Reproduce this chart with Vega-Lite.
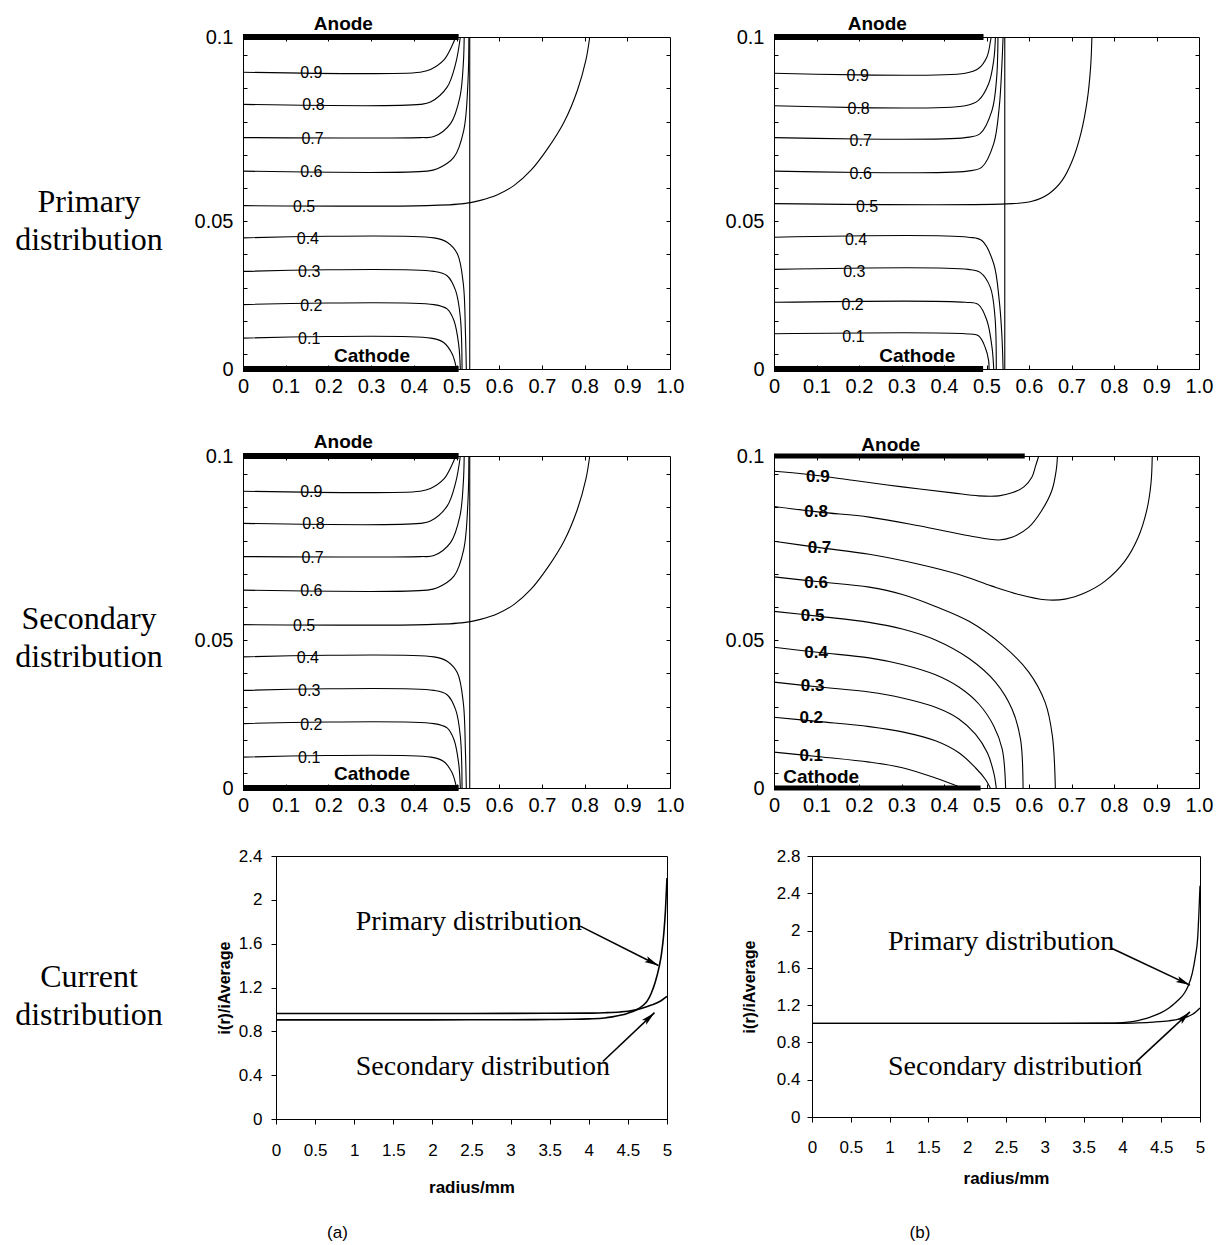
{
"$schema": "https://vega.github.io/schema/vega-lite/v6.json",
"background": "white",
"padding": {"left": 0, "top": 14, "right": 0, "bottom": 0},
"bounds": "full",
"spacing": 30,
"config": {
  "view": {"stroke": "black", "strokeWidth": 1},
  "axis": {"grid": false, "domainColor": "black", "domainWidth": 1, "tickColor": "black", "tickWidth": 1, "labelColor": "black", "titleColor": "black", "labelFont": "Liberation Sans", "titleFont": "Liberation Sans", "labelFlush": false, "labelOverlap": false},
  "text": {"font": "Liberation Sans", "color": "black"},
  "title": {"font": "Liberation Sans", "color": "black"}
},
"datasets": {
  "rl1": [{"t":"Primary","x":89,"y":0.5816},{"t":"distribution","x":89,"y":0.491}],
  "rl2": [{"t":"Secondary","x":89,"y":0.4795},{"t":"distribution","x":89,"y":0.365}],
  "rl3": [{"t":"Current","x":89,"y":0.502},{"t":"distribution","x":89,"y":0.357}],
  "sp": [{"t":""}],
  "c1a": [
    {"lev":"0.9","x":0,"y":0.0894},{"lev":"0.9","x":0.415,"y":0.0894},{"lev":"0.9","x":0.439,"y":0.0902},{"lev":"0.9","x":0.47,"y":0.093},{"lev":"0.9","x":0.49,"y":0.0975},{"lev":"0.9","x":0.498,"y":0.1},
    {"lev":"0.8","x":0,"y":0.0797},{"lev":"0.8","x":0.415,"y":0.0797},{"lev":"0.8","x":0.439,"y":0.0804},{"lev":"0.8","x":0.478,"y":0.0849},{"lev":"0.8","x":0.498,"y":0.092},{"lev":"0.8","x":0.509,"y":0.1},
    {"lev":"0.7","x":0,"y":0.0697},{"lev":"0.7","x":0.415,"y":0.0697},{"lev":"0.7","x":0.447,"y":0.07},{"lev":"0.7","x":0.486,"y":0.0739},{"lev":"0.7","x":0.508,"y":0.0819},{"lev":"0.7","x":0.516,"y":0.092},{"lev":"0.7","x":0.518,"y":0.1},
    {"lev":"0.6","x":0,"y":0.0596},{"lev":"0.6","x":0.431,"y":0.0596},{"lev":"0.6","x":0.455,"y":0.0603},{"lev":"0.6","x":0.494,"y":0.0638},{"lev":"0.6","x":0.517,"y":0.0719},{"lev":"0.6","x":0.527,"y":0.0869},{"lev":"0.6","x":0.529,"y":0.1},
    {"lev":"0.5","x":0,"y":0.0492},{"lev":"0.5","x":0.43,"y":0.0492},{"lev":"0.5","x":0.517,"y":0.0498},{"lev":"0.5","x":0.556,"y":0.0508},{"lev":"0.5","x":0.596,"y":0.0525},{"lev":"0.5","x":0.635,"y":0.0553},{"lev":"0.5","x":0.674,"y":0.0598},{"lev":"0.5","x":0.713,"y":0.0663},{"lev":"0.5","x":0.752,"y":0.0744},{"lev":"0.5","x":0.783,"y":0.0839},{"lev":"0.5","x":0.803,"y":0.093},{"lev":"0.5","x":0.812,"y":0.1},
    {"lev":"0.4","x":0,"y":0.0395},{"lev":"0.4","x":0.447,"y":0.0395},{"lev":"0.4","x":0.478,"y":0.0382},{"lev":"0.4","x":0.502,"y":0.0347},{"lev":"0.4","x":0.516,"y":0.0256},{"lev":"0.4","x":0.521,"y":0.0106},{"lev":"0.4","x":0.523,"y":0},
    {"lev":"0.3","x":0,"y":0.0294},{"lev":"0.3","x":0.447,"y":0.0294},{"lev":"0.3","x":0.478,"y":0.0281},{"lev":"0.3","x":0.498,"y":0.0236},{"lev":"0.3","x":0.509,"y":0.0156},{"lev":"0.3","x":0.513,"y":0},
    {"lev":"0.2","x":0,"y":0.0194},{"lev":"0.2","x":0.447,"y":0.0194},{"lev":"0.2","x":0.478,"y":0.0181},{"lev":"0.2","x":0.494,"y":0.0146},{"lev":"0.2","x":0.505,"y":0.0075},{"lev":"0.2","x":0.509,"y":0},
    {"lev":"0.1","x":0,"y":0.0093},{"lev":"0.1","x":0.44,"y":0.0093},{"lev":"0.1","x":0.47,"y":0.008},{"lev":"0.1","x":0.49,"y":0.0045},{"lev":"0.1","x":0.5,"y":0},
    {"lev":"v","x":0.531,"y":0},{"lev":"v","x":0.531,"y":0.1}
  ],
  "l1a": [{"lev":"0.9","x":0.16,"y":0.0894},{"lev":"0.8","x":0.165,"y":0.0797},{"lev":"0.7","x":0.163,"y":0.0697},{"lev":"0.6","x":0.16,"y":0.0596},{"lev":"0.5","x":0.143,"y":0.0492},{"lev":"0.4","x":0.152,"y":0.0395},{"lev":"0.3","x":0.155,"y":0.0294},{"lev":"0.2","x":0.16,"y":0.0194},{"lev":"0.1","x":0.155,"y":0.0093}],
  "e1a": [{"name":"Anode","x0":0,"x1":0.505,"y":0.1,"lx":0.235},{"name":"Cathode","x0":0,"x1":0.505,"y":0,"lx":0.302}],
  "c1b": [
    {"lev":"0.9","x":0,"y":0.0891},{"lev":"0.9","x":0.45,"y":0.0891},{"lev":"0.9","x":0.481,"y":0.0905},{"lev":"0.9","x":0.501,"y":0.094},{"lev":"0.9","x":0.509,"y":0.0985},{"lev":"0.9","x":0.511,"y":0.1},
    {"lev":"0.8","x":0,"y":0.0793},{"lev":"0.8","x":0.45,"y":0.0793},{"lev":"0.8","x":0.481,"y":0.0809},{"lev":"0.8","x":0.505,"y":0.0859},{"lev":"0.8","x":0.517,"y":0.093},{"lev":"0.8","x":0.521,"y":0.1},
    {"lev":"0.7","x":0,"y":0.0697},{"lev":"0.7","x":0.45,"y":0.0697},{"lev":"0.7","x":0.485,"y":0.0709},{"lev":"0.7","x":0.513,"y":0.0779},{"lev":"0.7","x":0.524,"y":0.0879},{"lev":"0.7","x":0.527,"y":0.1},
    {"lev":"0.6","x":0,"y":0.0596},{"lev":"0.6","x":0.455,"y":0.0596},{"lev":"0.6","x":0.489,"y":0.0608},{"lev":"0.6","x":0.517,"y":0.0679},{"lev":"0.6","x":0.53,"y":0.0789},{"lev":"0.6","x":0.536,"y":0.091},{"lev":"0.6","x":0.539,"y":0.1},
    {"lev":"0.5","x":0,"y":0.0498},{"lev":"0.5","x":0.56,"y":0.0498},{"lev":"0.5","x":0.607,"y":0.0505},{"lev":"0.5","x":0.647,"y":0.0528},{"lev":"0.5","x":0.678,"y":0.0568},{"lev":"0.5","x":0.702,"y":0.0628},{"lev":"0.5","x":0.722,"y":0.0709},{"lev":"0.5","x":0.737,"y":0.0809},{"lev":"0.5","x":0.745,"y":0.091},{"lev":"0.5","x":0.748,"y":0.1},
    {"lev":"0.4","x":0,"y":0.0397},{"lev":"0.4","x":0.457,"y":0.0397},{"lev":"0.4","x":0.489,"y":0.0387},{"lev":"0.4","x":0.517,"y":0.0317},{"lev":"0.4","x":0.53,"y":0.0206},{"lev":"0.4","x":0.536,"y":0.0106},{"lev":"0.4","x":0.539,"y":0},
    {"lev":"0.3","x":0,"y":0.03},{"lev":"0.3","x":0.457,"y":0.03},{"lev":"0.3","x":0.485,"y":0.0291},{"lev":"0.3","x":0.509,"y":0.0246},{"lev":"0.3","x":0.52,"y":0.0156},{"lev":"0.3","x":0.523,"y":0},
    {"lev":"0.2","x":0,"y":0.0201},{"lev":"0.2","x":0.45,"y":0.0201},{"lev":"0.2","x":0.481,"y":0.0194},{"lev":"0.2","x":0.501,"y":0.0146},{"lev":"0.2","x":0.513,"y":0.0065},{"lev":"0.2","x":0.517,"y":0},
    {"lev":"0.1","x":0,"y":0.0106},{"lev":"0.1","x":0.45,"y":0.0106},{"lev":"0.1","x":0.481,"y":0.01},{"lev":"0.1","x":0.497,"y":0.0065},{"lev":"0.1","x":0.505,"y":0.0025},{"lev":"0.1","x":0.506,"y":0},
    {"lev":"v","x":0.543,"y":0},{"lev":"v","x":0.543,"y":0.1}
  ],
  "l1b": [{"lev":"0.9","x":0.197,"y":0.0891},{"lev":"0.8","x":0.199,"y":0.0793},{"lev":"0.7","x":0.204,"y":0.0697},{"lev":"0.6","x":0.204,"y":0.0596},{"lev":"0.5","x":0.219,"y":0.0498},{"lev":"0.4","x":0.193,"y":0.0397},{"lev":"0.3","x":0.189,"y":0.03},{"lev":"0.2","x":0.185,"y":0.0201},{"lev":"0.1","x":0.187,"y":0.0106}],
  "e1b": [{"name":"Anode","x0":0,"x1":0.493,"y":0.1,"lx":0.243},{"name":"Cathode","x0":0,"x1":0.492,"y":0,"lx":0.337}],
  "c2b": [
    {"lev":"0.9","x":0,"y":0.0954},{"lev":"0.9","x":0.076,"y":0.0945},{"lev":"0.9","x":0.185,"y":0.0927},{"lev":"0.9","x":0.302,"y":0.0907},{"lev":"0.9","x":0.42,"y":0.0889},{"lev":"0.9","x":0.482,"y":0.088},{"lev":"0.9","x":0.529,"y":0.088},{"lev":"0.9","x":0.56,"y":0.0889},{"lev":"0.9","x":0.588,"y":0.0907},{"lev":"0.9","x":0.607,"y":0.0937},{"lev":"0.9","x":0.615,"y":0.0968},{"lev":"0.9","x":0.623,"y":0.1},
    {"lev":"0.8","x":0,"y":0.0848},{"lev":"0.8","x":0.107,"y":0.0831},{"lev":"0.8","x":0.224,"y":0.0816},{"lev":"0.8","x":0.341,"y":0.079},{"lev":"0.8","x":0.459,"y":0.076},{"lev":"0.8","x":0.529,"y":0.0747},{"lev":"0.8","x":0.56,"y":0.0755},{"lev":"0.8","x":0.599,"y":0.0785},{"lev":"0.8","x":0.63,"y":0.0836},{"lev":"0.8","x":0.654,"y":0.0897},{"lev":"0.8","x":0.664,"y":0.0957},{"lev":"0.8","x":0.667,"y":0.1},
    {"lev":"0.7","x":0,"y":0.0743},{"lev":"0.7","x":0.107,"y":0.0724},{"lev":"0.7","x":0.224,"y":0.0704},{"lev":"0.7","x":0.341,"y":0.0674},{"lev":"0.7","x":0.435,"y":0.0643},{"lev":"0.7","x":0.513,"y":0.0608},{"lev":"0.7","x":0.576,"y":0.0583},{"lev":"0.7","x":0.638,"y":0.0567},{"lev":"0.7","x":0.685,"y":0.0569},{"lev":"0.7","x":0.732,"y":0.0588},{"lev":"0.7","x":0.779,"y":0.0623},{"lev":"0.7","x":0.826,"y":0.0684},{"lev":"0.7","x":0.857,"y":0.0755},{"lev":"0.7","x":0.877,"y":0.0836},{"lev":"0.7","x":0.887,"y":0.0917},{"lev":"0.7","x":0.89,"y":0.1},
    {"lev":"0.6","x":0,"y":0.0636},{"lev":"0.6","x":0.107,"y":0.0621},{"lev":"0.6","x":0.224,"y":0.0605},{"lev":"0.6","x":0.302,"y":0.0583},{"lev":"0.6","x":0.38,"y":0.0547},{"lev":"0.6","x":0.459,"y":0.0502},{"lev":"0.6","x":0.537,"y":0.0431},{"lev":"0.6","x":0.599,"y":0.035},{"lev":"0.6","x":0.638,"y":0.0258},{"lev":"0.6","x":0.655,"y":0.0157},{"lev":"0.6","x":0.662,"y":0},
    {"lev":"0.5","x":0,"y":0.0532},{"lev":"0.5","x":0.107,"y":0.0517},{"lev":"0.5","x":0.224,"y":0.0499},{"lev":"0.5","x":0.302,"y":0.0479},{"lev":"0.5","x":0.38,"y":0.0446},{"lev":"0.5","x":0.459,"y":0.039},{"lev":"0.5","x":0.521,"y":0.0319},{"lev":"0.5","x":0.56,"y":0.0238},{"lev":"0.5","x":0.58,"y":0.0147},{"lev":"0.5","x":0.586,"y":0},
    {"lev":"0.4","x":0,"y":0.0424},{"lev":"0.4","x":0.107,"y":0.0408},{"lev":"0.4","x":0.224,"y":0.0392},{"lev":"0.4","x":0.302,"y":0.0372},{"lev":"0.4","x":0.38,"y":0.0341},{"lev":"0.4","x":0.435,"y":0.0304},{"lev":"0.4","x":0.482,"y":0.0253},{"lev":"0.4","x":0.517,"y":0.0187},{"lev":"0.4","x":0.537,"y":0.0117},{"lev":"0.4","x":0.545,"y":0},
    {"lev":"0.3","x":0,"y":0.0319},{"lev":"0.3","x":0.107,"y":0.0304},{"lev":"0.3","x":0.224,"y":0.0289},{"lev":"0.3","x":0.302,"y":0.0271},{"lev":"0.3","x":0.38,"y":0.0243},{"lev":"0.3","x":0.435,"y":0.0208},{"lev":"0.3","x":0.474,"y":0.0162},{"lev":"0.3","x":0.502,"y":0.0106},{"lev":"0.3","x":0.517,"y":0.0046},{"lev":"0.3","x":0.523,"y":0},
    {"lev":"0.2","x":0,"y":0.0213},{"lev":"0.2","x":0.107,"y":0.02},{"lev":"0.2","x":0.224,"y":0.0185},{"lev":"0.2","x":0.302,"y":0.0169},{"lev":"0.2","x":0.38,"y":0.0142},{"lev":"0.2","x":0.435,"y":0.0106},{"lev":"0.2","x":0.474,"y":0.0061},{"lev":"0.2","x":0.498,"y":0.0025},{"lev":"0.2","x":0.509,"y":0},
    {"lev":"0.1","x":0,"y":0.0108},{"lev":"0.1","x":0.107,"y":0.0094},{"lev":"0.1","x":0.224,"y":0.0078},{"lev":"0.1","x":0.302,"y":0.0061},{"lev":"0.1","x":0.38,"y":0.003},{"lev":"0.1","x":0.443,"y":0}
  ],
  "l2b": [{"lev":"0.9","x":0.103,"y":0.0939},{"lev":"0.8","x":0.099,"y":0.0834},{"lev":"0.7","x":0.107,"y":0.0726},{"lev":"0.6","x":0.099,"y":0.0621},{"lev":"0.5","x":0.091,"y":0.052},{"lev":"0.4","x":0.099,"y":0.041},{"lev":"0.3","x":0.091,"y":0.0309},{"lev":"0.2","x":0.0875,"y":0.0213},{"lev":"0.1","x":0.0875,"y":0.0098}],
  "e2b": [{"name":"Anode","x0":0,"x1":0.59,"y":0.1,"lx":0.275},{"name":"Cathode","x0":0,"x1":0.486,"y":0,"lx":0.111}],
  "cura": [
    {"d":"Primary","r":0,"v":0.905},{"d":"Primary","r":1,"v":0.905},{"d":"Primary","r":2,"v":0.905},{"d":"Primary","r":3,"v":0.906},{"d":"Primary","r":3.5,"v":0.908},{"d":"Primary","r":3.8,"v":0.91},{"d":"Primary","r":4,"v":0.914},{"d":"Primary","r":4.2,"v":0.922},{"d":"Primary","r":4.3,"v":0.932},{"d":"Primary","r":4.4,"v":0.946},{"d":"Primary","r":4.5,"v":0.966},{"d":"Primary","r":4.6,"v":0.993},{"d":"Primary","r":4.7,"v":1.04},{"d":"Primary","r":4.75,"v":1.08},{"d":"Primary","r":4.8,"v":1.15},{"d":"Primary","r":4.85,"v":1.25},{"d":"Primary","r":4.9,"v":1.39},{"d":"Primary","r":4.93,"v":1.51},{"d":"Primary","r":4.96,"v":1.7},{"d":"Primary","r":4.98,"v":1.9},{"d":"Primary","r":5,"v":2.2},
    {"d":"Secondary","r":0,"v":0.963},{"d":"Secondary","r":1,"v":0.963},{"d":"Secondary","r":2,"v":0.963},{"d":"Secondary","r":3,"v":0.964},{"d":"Secondary","r":4,"v":0.966},{"d":"Secondary","r":4.2,"v":0.97},{"d":"Secondary","r":4.4,"v":0.977},{"d":"Secondary","r":4.5,"v":0.984},{"d":"Secondary","r":4.6,"v":0.996},{"d":"Secondary","r":4.7,"v":1.015},{"d":"Secondary","r":4.8,"v":1.04},{"d":"Secondary","r":4.9,"v":1.07},{"d":"Secondary","r":5,"v":1.12}
  ],
  "arra": [{"d":"Primary","r":3.89,"v":1.76,"r2":4.89,"v2":1.40},{"d":"Secondary","r":4.18,"v":0.525,"r2":4.84,"v2":0.97}],
  "anna": [{"t":"Primary distribution","r":1.02,"v":1.80},{"t":"Secondary distribution","r":1.02,"v":0.47}],
  "curb": [
    {"d":"Primary","r":0,"v":1.005},{"d":"Primary","r":1,"v":1.005},{"d":"Primary","r":2,"v":1.005},{"d":"Primary","r":3,"v":1.005},{"d":"Primary","r":3.6,"v":1.006},{"d":"Primary","r":3.9,"v":1.008},{"d":"Primary","r":4.1,"v":1.02},{"d":"Primary","r":4.2,"v":1.035},{"d":"Primary","r":4.3,"v":1.055},{"d":"Primary","r":4.4,"v":1.085},{"d":"Primary","r":4.5,"v":1.12},{"d":"Primary","r":4.6,"v":1.17},{"d":"Primary","r":4.7,"v":1.24},{"d":"Primary","r":4.8,"v":1.33},{"d":"Primary","r":4.85,"v":1.41},{"d":"Primary","r":4.9,"v":1.54},{"d":"Primary","r":4.94,"v":1.72},{"d":"Primary","r":4.97,"v":1.92},{"d":"Primary","r":5,"v":2.48},
    {"d":"Secondary","r":0,"v":1.005},{"d":"Secondary","r":3,"v":1.005},{"d":"Secondary","r":4,"v":1.006},{"d":"Secondary","r":4.2,"v":1.01},{"d":"Secondary","r":4.4,"v":1.018},{"d":"Secondary","r":4.6,"v":1.032},{"d":"Secondary","r":4.74,"v":1.052},{"d":"Secondary","r":4.85,"v":1.08},{"d":"Secondary","r":4.91,"v":1.105},{"d":"Secondary","r":5,"v":1.17}
  ],
  "arrb": [{"d":"Primary","r":3.86,"v":1.81,"r2":4.87,"v2":1.415},{"d":"Secondary","r":4.18,"v":0.594,"r2":4.87,"v2":1.127}],
  "annb": [{"t":"Primary distribution","r":0.98,"v":1.878},{"t":"Secondary distribution","r":0.98,"v":0.539}]
},
"vconcat": [
 {"bounds": "flush", "columns": 4, "align": "each", "spacing": {"row": 0, "column": 0},
  "concat": [
  {"width": 243, "height": 419, "view": {"stroke": null}, "data": {"name": "rl1"},
   "mark": {"type": "text", "font": "Liberation Serif", "fontSize": 32, "baseline": "alphabetic", "align": "center"},
   "encoding": {"x": {"field": "x", "type": "quantitative", "scale": {"domain": [0, 243]}, "axis": null}, "y": {"field": "y", "type": "quantitative", "scale": {"domain": [0, 1]}, "axis": null}, "text": {"field": "t"}}},
  {"width": 427, "height": 332,
   "layer": [
    {"data": {"name": "c1a"}, "mark": {"type": "line", "interpolate": "catmull-rom", "color": "black", "strokeWidth": 1.1},
     "encoding": {
      "x": {"field": "x", "type": "quantitative", "scale": {"domain": [0, 1], "nice": false, "zero": false}, "axis": {"orient": "bottom", "title": null, "values": [0,0.1,0.2,0.3,0.4,0.5,0.6,0.7,0.8,0.9,1], "tickSize": -4, "labelPadding": 11, "labelFontSize": 20, "labelExpr": "datum.value == 0 ? '0' : format(datum.value, '.1f')"}},
      "y": {"field": "y", "type": "quantitative", "scale": {"domain": [0, 0.1], "nice": false, "zero": false}, "axis": {"orient": "left", "title": null, "values": [0,0.0045,0.0145,0.0245,0.0345,0.0445,0.0545,0.0645,0.0745,0.0845,0.0945,0.1], "tickSize": -4, "labelPadding": 14, "labelFontSize": 20, "labelExpr": "datum.value == 0 ? '0' : (datum.value == 0.1 ? '0.1' : (datum.value == 0.0445 ? '0.05' : ''))"}},
      "detail": {"field": "lev"}}},
    {"data": {"name": "e1a"}, "mark": {"type": "rule", "strokeWidth": 6, "color": "black"},
     "encoding": {
      "x": {"field": "x0", "type": "quantitative", "scale": {"domain": [0, 1], "nice": false, "zero": false}, "axis": {"orient": "top", "title": null, "labels": false, "domain": false, "values": [0.1,0.2,0.3,0.4,0.5,0.6,0.7,0.8,0.9], "tickSize": -4}},
      "x2": {"field": "x1"},
      "y": {"field": "y", "type": "quantitative", "scale": {"domain": [0, 0.1], "nice": false, "zero": false}, "axis": {"orient": "right", "title": null, "labels": false, "domain": false, "values": [0.0045,0.0145,0.0245,0.0345,0.0445,0.0545,0.0645,0.0745,0.0845,0.0945], "tickSize": -4}}}},
    {"data": {"name": "e1a"}, "mark": {"type": "text", "fontWeight": "bold", "fontSize": 19, "baseline": "alphabetic", "dy": -7},
     "encoding": {"x": {"field": "lx", "type": "quantitative", "scale": {"domain": [0, 1], "nice": false, "zero": false}, "axis": null}, "y": {"field": "y", "type": "quantitative", "scale": {"domain": [0, 0.1], "nice": false, "zero": false}, "axis": null}, "text": {"field": "name"}}},
    {"data": {"name": "l1a"}, "mark": {"type": "text", "fontSize": 16, "baseline": "middle", "dy": 1},
     "encoding": {"x": {"field": "x", "type": "quantitative", "scale": {"domain": [0, 1], "nice": false, "zero": false}, "axis": null}, "y": {"field": "y", "type": "quantitative", "scale": {"domain": [0, 0.1], "nice": false, "zero": false}, "axis": null}, "text": {"field": "lev"}}}
   ],
   "resolve": {"axis": {"x": "independent", "y": "independent"}}},
  {"width": 104, "height": 1, "view": {"stroke": null}, "data": {"name": "sp"}, "mark": {"type": "text", "opacity": 0}, "encoding": {"text": {"field": "t"}}},
  {"width": 425, "height": 332,
   "layer": [
    {"data": {"name": "c1b"}, "mark": {"type": "line", "interpolate": "catmull-rom", "color": "black", "strokeWidth": 1.1},
     "encoding": {
      "x": {"field": "x", "type": "quantitative", "scale": {"domain": [0, 1], "nice": false, "zero": false}, "axis": {"orient": "bottom", "title": null, "values": [0,0.1,0.2,0.3,0.4,0.5,0.6,0.7,0.8,0.9,1], "tickSize": -4, "labelPadding": 11, "labelFontSize": 20, "labelExpr": "datum.value == 0 ? '0' : format(datum.value, '.1f')"}},
      "y": {"field": "y", "type": "quantitative", "scale": {"domain": [0, 0.1], "nice": false, "zero": false}, "axis": {"orient": "left", "title": null, "values": [0,0.0045,0.0145,0.0245,0.0345,0.0445,0.0545,0.0645,0.0745,0.0845,0.0945,0.1], "tickSize": -4, "labelPadding": 14, "labelFontSize": 20, "labelExpr": "datum.value == 0 ? '0' : (datum.value == 0.1 ? '0.1' : (datum.value == 0.0445 ? '0.05' : ''))"}},
      "detail": {"field": "lev"}}},
    {"data": {"name": "e1b"}, "mark": {"type": "rule", "strokeWidth": 6, "color": "black"},
     "encoding": {
      "x": {"field": "x0", "type": "quantitative", "scale": {"domain": [0, 1], "nice": false, "zero": false}, "axis": {"orient": "top", "title": null, "labels": false, "domain": false, "values": [0.1,0.2,0.3,0.4,0.5,0.6,0.7,0.8,0.9], "tickSize": -4}},
      "x2": {"field": "x1"},
      "y": {"field": "y", "type": "quantitative", "scale": {"domain": [0, 0.1], "nice": false, "zero": false}, "axis": {"orient": "right", "title": null, "labels": false, "domain": false, "values": [0.0045,0.0145,0.0245,0.0345,0.0445,0.0545,0.0645,0.0745,0.0845,0.0945], "tickSize": -4}}}},
    {"data": {"name": "e1b"}, "mark": {"type": "text", "fontWeight": "bold", "fontSize": 19, "baseline": "alphabetic", "dy": -7},
     "encoding": {"x": {"field": "lx", "type": "quantitative", "scale": {"domain": [0, 1], "nice": false, "zero": false}, "axis": null}, "y": {"field": "y", "type": "quantitative", "scale": {"domain": [0, 0.1], "nice": false, "zero": false}, "axis": null}, "text": {"field": "name"}}},
    {"data": {"name": "l1b"}, "mark": {"type": "text", "fontSize": 16, "baseline": "middle", "dy": 3},
     "encoding": {"x": {"field": "x", "type": "quantitative", "scale": {"domain": [0, 1], "nice": false, "zero": false}, "axis": null}, "y": {"field": "y", "type": "quantitative", "scale": {"domain": [0, 0.1], "nice": false, "zero": false}, "axis": null}, "text": {"field": "lev"}}}
   ],
   "resolve": {"axis": {"x": "independent", "y": "independent"}}},
  {"width": 243, "height": 332, "view": {"stroke": null}, "data": {"name": "rl2"},
   "mark": {"type": "text", "font": "Liberation Serif", "fontSize": 32, "baseline": "alphabetic", "align": "center"},
   "encoding": {"x": {"field": "x", "type": "quantitative", "scale": {"domain": [0, 243]}, "axis": null}, "y": {"field": "y", "type": "quantitative", "scale": {"domain": [0, 1]}, "axis": null}, "text": {"field": "t"}}},
  {"width": 427, "height": 332,
   "layer": [
    {"data": {"name": "c1a"}, "mark": {"type": "line", "interpolate": "catmull-rom", "color": "black", "strokeWidth": 1.1},
     "encoding": {
      "x": {"field": "x", "type": "quantitative", "scale": {"domain": [0, 1], "nice": false, "zero": false}, "axis": {"orient": "bottom", "title": null, "values": [0,0.1,0.2,0.3,0.4,0.5,0.6,0.7,0.8,0.9,1], "tickSize": -4, "labelPadding": 11, "labelFontSize": 20, "labelExpr": "datum.value == 0 ? '0' : format(datum.value, '.1f')"}},
      "y": {"field": "y", "type": "quantitative", "scale": {"domain": [0, 0.1], "nice": false, "zero": false}, "axis": {"orient": "left", "title": null, "values": [0,0.0045,0.0145,0.0245,0.0345,0.0445,0.0545,0.0645,0.0745,0.0845,0.0945,0.1], "tickSize": -4, "labelPadding": 14, "labelFontSize": 20, "labelExpr": "datum.value == 0 ? '0' : (datum.value == 0.1 ? '0.1' : (datum.value == 0.0445 ? '0.05' : ''))"}},
      "detail": {"field": "lev"}}},
    {"data": {"name": "e1a"}, "mark": {"type": "rule", "strokeWidth": 6, "color": "black"},
     "encoding": {
      "x": {"field": "x0", "type": "quantitative", "scale": {"domain": [0, 1], "nice": false, "zero": false}, "axis": {"orient": "top", "title": null, "labels": false, "domain": false, "values": [0.1,0.2,0.3,0.4,0.5,0.6,0.7,0.8,0.9], "tickSize": -4}},
      "x2": {"field": "x1"},
      "y": {"field": "y", "type": "quantitative", "scale": {"domain": [0, 0.1], "nice": false, "zero": false}, "axis": {"orient": "right", "title": null, "labels": false, "domain": false, "values": [0.0045,0.0145,0.0245,0.0345,0.0445,0.0545,0.0645,0.0745,0.0845,0.0945], "tickSize": -4}}}},
    {"data": {"name": "e1a"}, "mark": {"type": "text", "fontWeight": "bold", "fontSize": 19, "baseline": "alphabetic", "dy": -8},
     "encoding": {"x": {"field": "lx", "type": "quantitative", "scale": {"domain": [0, 1], "nice": false, "zero": false}, "axis": null}, "y": {"field": "y", "type": "quantitative", "scale": {"domain": [0, 0.1], "nice": false, "zero": false}, "axis": null}, "text": {"field": "name"}}},
    {"data": {"name": "l1a"}, "mark": {"type": "text", "fontSize": 16, "baseline": "middle", "dy": 1},
     "encoding": {"x": {"field": "x", "type": "quantitative", "scale": {"domain": [0, 1], "nice": false, "zero": false}, "axis": null}, "y": {"field": "y", "type": "quantitative", "scale": {"domain": [0, 0.1], "nice": false, "zero": false}, "axis": null}, "text": {"field": "lev"}}}
   ],
   "resolve": {"axis": {"x": "independent", "y": "independent"}}},
  {"width": 104, "height": 1, "view": {"stroke": null}, "data": {"name": "sp"}, "mark": {"type": "text", "opacity": 0}, "encoding": {"text": {"field": "t"}}},
  {"width": 425, "height": 332,
   "layer": [
    {"data": {"name": "c2b"}, "mark": {"type": "line", "interpolate": "catmull-rom", "color": "black", "strokeWidth": 1.1},
     "encoding": {
      "x": {"field": "x", "type": "quantitative", "scale": {"domain": [0, 1], "nice": false, "zero": false}, "axis": {"orient": "bottom", "title": null, "values": [0,0.1,0.2,0.3,0.4,0.5,0.6,0.7,0.8,0.9,1], "tickSize": -4, "labelPadding": 11, "labelFontSize": 20, "labelExpr": "datum.value == 0 ? '0' : format(datum.value, '.1f')"}},
      "y": {"field": "y", "type": "quantitative", "scale": {"domain": [0, 0.1], "nice": false, "zero": false}, "axis": {"orient": "left", "title": null, "values": [0,0.0045,0.0145,0.0245,0.0345,0.0445,0.0545,0.0645,0.0745,0.0845,0.0945,0.1], "tickSize": -4, "labelPadding": 14, "labelFontSize": 20, "labelExpr": "datum.value == 0 ? '0' : (datum.value == 0.1 ? '0.1' : (datum.value == 0.0445 ? '0.05' : ''))"}},
      "detail": {"field": "lev"}}},
    {"data": {"name": "e2b"}, "mark": {"type": "rule", "strokeWidth": 5, "color": "black"},
     "encoding": {
      "x": {"field": "x0", "type": "quantitative", "scale": {"domain": [0, 1], "nice": false, "zero": false}, "axis": {"orient": "top", "title": null, "labels": false, "domain": false, "values": [0.1,0.2,0.3,0.4,0.5,0.6,0.7,0.8,0.9], "tickSize": -4}},
      "x2": {"field": "x1"},
      "y": {"field": "y", "type": "quantitative", "scale": {"domain": [0, 0.1], "nice": false, "zero": false}, "axis": {"orient": "right", "title": null, "labels": false, "domain": false, "values": [0.0045,0.0145,0.0245,0.0345,0.0445,0.0545,0.0645,0.0745,0.0845,0.0945], "tickSize": -4}}}},
    {"data": {"name": "e2b"}, "mark": {"type": "text", "fontWeight": "bold", "fontSize": 19, "baseline": "alphabetic", "dy": -5},
     "encoding": {"x": {"field": "lx", "type": "quantitative", "scale": {"domain": [0, 1], "nice": false, "zero": false}, "axis": null}, "y": {"field": "y", "type": "quantitative", "scale": {"domain": [0, 0.1], "nice": false, "zero": false}, "axis": null}, "text": {"field": "name"}}},
    {"data": {"name": "l2b"}, "mark": {"type": "text", "fontSize": 17, "fontWeight": "bold", "baseline": "middle", "dy": 1},
     "encoding": {"x": {"field": "x", "type": "quantitative", "scale": {"domain": [0, 1], "nice": false, "zero": false}, "axis": null}, "y": {"field": "y", "type": "quantitative", "scale": {"domain": [0, 0.1], "nice": false, "zero": false}, "axis": null}, "text": {"field": "lev"}}}
   ],
   "resolve": {"axis": {"x": "independent", "y": "independent"}}}
  ]},
 {"bounds": "flush", "columns": 4, "align": "each", "spacing": {"row": 0, "column": 0},
  "concat": [
  {"width": 276, "height": 263, "view": {"stroke": null}, "data": {"name": "rl3"},
   "mark": {"type": "text", "font": "Liberation Serif", "fontSize": 32, "baseline": "alphabetic", "align": "center"},
   "encoding": {"x": {"field": "x", "type": "quantitative", "scale": {"domain": [0, 276]}, "axis": null}, "y": {"field": "y", "type": "quantitative", "scale": {"domain": [0, 1]}, "axis": null}, "text": {"field": "t"}}},
  {"width": 391, "height": 263,
   "title": {"text": "(a)", "orient": "bottom", "anchor": "middle", "dx": -134, "offset": 30, "fontSize": 17, "fontWeight": "normal", "font": "Liberation Sans", "color": "black"},
   "layer": [
    {"data": {"name": "cura"}, "mark": {"type": "line", "interpolate": "monotone", "color": "black", "strokeWidth": 1.6},
     "encoding": {
      "x": {"field": "r", "type": "quantitative", "scale": {"domain": [0, 5], "nice": false, "zero": false}, "axis": {"title": "radius/mm", "values": [0,0.5,1,1.5,2,2.5,3,3.5,4,4.5,5], "format": "~g", "tickSize": 5, "labelPadding": 18, "labelFontSize": 17, "titleFontSize": 17, "titleFontWeight": "bold", "titlePadding": 21}},
      "y": {"field": "v", "type": "quantitative", "scale": {"domain": [0, 2.4], "nice": false, "zero": false}, "axis": {"title": "i(r)/iAverage", "values": [0,0.4,0.8,1.2,1.6,2,2.4], "format": "~g", "tickSize": 5, "labelPadding": 9, "labelFontSize": 17, "titleFontSize": 16, "titleFontWeight": "bold", "titlePadding": 6}},
      "detail": {"field": "d"}}},
    {"data": {"name": "arra"}, "mark": {"type": "rule", "strokeWidth": 1.6, "color": "black"},
     "encoding": {"x": {"field": "r", "type": "quantitative", "scale": {"domain": [0, 5], "nice": false, "zero": false}, "axis": null}, "y": {"field": "v", "type": "quantitative", "scale": {"domain": [0, 2.4], "nice": false, "zero": false}, "axis": null}, "x2": {"field": "r2"}, "y2": {"field": "v2"}}},
    {"data": {"name": "arra"}, "transform": [{"filter": "datum.d == 'Primary'"}],
     "mark": {"type": "point", "shape": "M0,0L0.45,2L0,1.6L-0.45,2Z", "filled": true, "color": "black", "opacity": 1, "size": 200, "angle": 117},
     "encoding": {"x": {"field": "r2", "type": "quantitative", "scale": {"domain": [0, 5], "nice": false, "zero": false}, "axis": null}, "y": {"field": "v2", "type": "quantitative", "scale": {"domain": [0, 2.4], "nice": false, "zero": false}, "axis": null}}},
    {"data": {"name": "arra"}, "transform": [{"filter": "datum.d == 'Secondary'"}],
     "mark": {"type": "point", "shape": "M0,0L0.45,2L0,1.6L-0.45,2Z", "filled": true, "color": "black", "opacity": 1, "size": 200, "angle": 47},
     "encoding": {"x": {"field": "r2", "type": "quantitative", "scale": {"domain": [0, 5], "nice": false, "zero": false}, "axis": null}, "y": {"field": "v2", "type": "quantitative", "scale": {"domain": [0, 2.4], "nice": false, "zero": false}, "axis": null}}},
    {"data": {"name": "anna"}, "mark": {"type": "text", "font": "Liberation Serif", "fontSize": 28, "align": "left", "baseline": "middle"},
     "encoding": {"x": {"field": "r", "type": "quantitative", "scale": {"domain": [0, 5], "nice": false, "zero": false}, "axis": null}, "y": {"field": "v", "type": "quantitative", "scale": {"domain": [0, 2.4], "nice": false, "zero": false}, "axis": null}, "text": {"field": "t"}}}
   ],
   "resolve": {"axis": {"x": "independent", "y": "independent"}}},
  {"width": 145, "height": 1, "view": {"stroke": null}, "data": {"name": "sp"}, "mark": {"type": "text", "opacity": 0}, "encoding": {"text": {"field": "t"}}},
  {"width": 388, "height": 261,
   "title": {"text": "(b)", "orient": "bottom", "anchor": "middle", "dx": -86, "offset": 39, "fontSize": 17, "fontWeight": "normal", "font": "Liberation Sans", "color": "black"},
   "layer": [
    {"data": {"name": "curb"}, "mark": {"type": "line", "interpolate": "monotone", "color": "black", "strokeWidth": 1.3},
     "encoding": {
      "x": {"field": "r", "type": "quantitative", "scale": {"domain": [0, 5], "nice": false, "zero": false}, "axis": {"title": "radius/mm", "values": [0,0.5,1,1.5,2,2.5,3,3.5,4,4.5,5], "format": "~g", "tickSize": 5, "labelPadding": 17, "labelFontSize": 17, "titleFontSize": 17, "titleFontWeight": "bold", "titlePadding": 15}},
      "y": {"field": "v", "type": "quantitative", "scale": {"domain": [0, 2.8], "nice": false, "zero": false}, "axis": {"title": "i(r)/iAverage", "values": [0,0.4,0.8,1.2,1.6,2,2.4,2.8], "format": "~g", "tickSize": 5, "labelPadding": 7, "labelFontSize": 17, "titleFontSize": 16, "titleFontWeight": "bold", "titlePadding": 19}},
      "detail": {"field": "d"}}},
    {"data": {"name": "arrb"}, "mark": {"type": "rule", "strokeWidth": 1.6, "color": "black"},
     "encoding": {"x": {"field": "r", "type": "quantitative", "scale": {"domain": [0, 5], "nice": false, "zero": false}, "axis": null}, "y": {"field": "v", "type": "quantitative", "scale": {"domain": [0, 2.8], "nice": false, "zero": false}, "axis": null}, "x2": {"field": "r2"}, "y2": {"field": "v2"}}},
    {"data": {"name": "arrb"}, "transform": [{"filter": "datum.d == 'Primary'"}],
     "mark": {"type": "point", "shape": "M0,0L0.45,2L0,1.6L-0.45,2Z", "filled": true, "color": "black", "opacity": 1, "size": 200, "angle": 115},
     "encoding": {"x": {"field": "r2", "type": "quantitative", "scale": {"domain": [0, 5], "nice": false, "zero": false}, "axis": null}, "y": {"field": "v2", "type": "quantitative", "scale": {"domain": [0, 2.8], "nice": false, "zero": false}, "axis": null}}},
    {"data": {"name": "arrb"}, "transform": [{"filter": "datum.d == 'Secondary'"}],
     "mark": {"type": "point", "shape": "M0,0L0.45,2L0,1.6L-0.45,2Z", "filled": true, "color": "black", "opacity": 1, "size": 200, "angle": 47},
     "encoding": {"x": {"field": "r2", "type": "quantitative", "scale": {"domain": [0, 5], "nice": false, "zero": false}, "axis": null}, "y": {"field": "v2", "type": "quantitative", "scale": {"domain": [0, 2.8], "nice": false, "zero": false}, "axis": null}}},
    {"data": {"name": "annb"}, "mark": {"type": "text", "font": "Liberation Serif", "fontSize": 28, "align": "left", "baseline": "middle"},
     "encoding": {"x": {"field": "r", "type": "quantitative", "scale": {"domain": [0, 5], "nice": false, "zero": false}, "axis": null}, "y": {"field": "v", "type": "quantitative", "scale": {"domain": [0, 2.8], "nice": false, "zero": false}, "axis": null}, "text": {"field": "t"}}}
   ],
   "resolve": {"axis": {"x": "independent", "y": "independent"}}}
  ]}
]
}
